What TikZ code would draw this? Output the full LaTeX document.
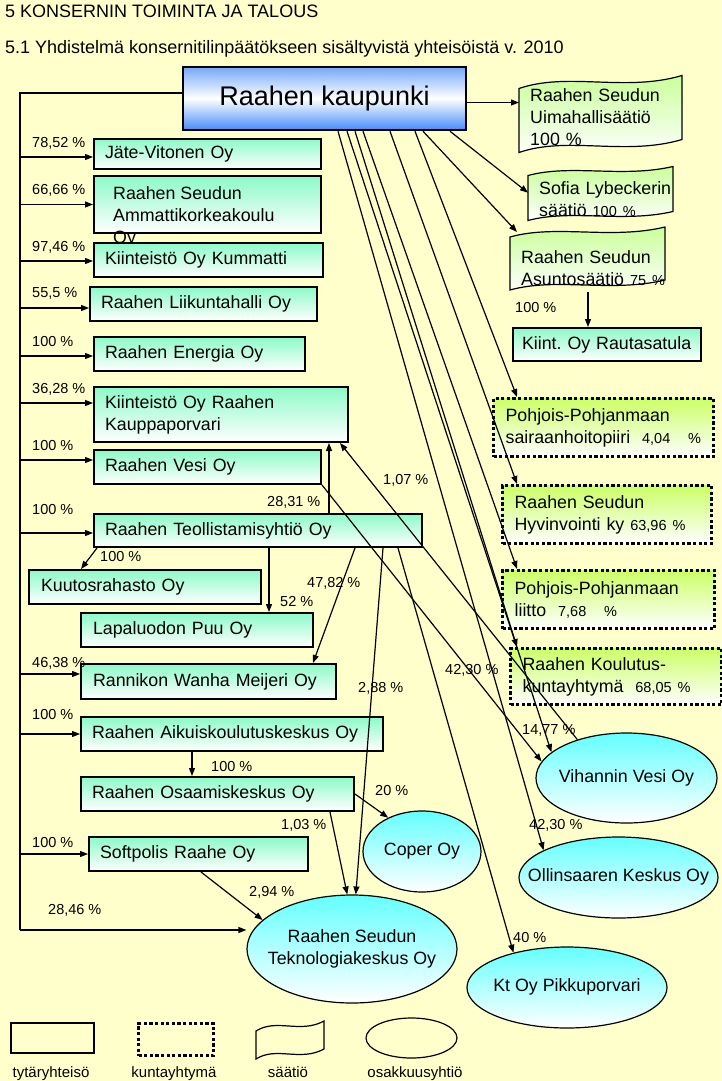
\documentclass[tikz,border=0pt]{standalone}
\usepackage{fontspec}
\setmainfont{Liberation Sans}
\usepackage{tikz}
\usetikzlibrary{positioning,arrows.meta,shapes.geometric}

\definecolor{paper}{RGB}{255,255,204}
\definecolor{mint}{RGB}{140,250,200}
\definecolor{lime}{RGB}{204,255,102}
\definecolor{leaf}{RGB}{200,255,150}
\definecolor{aqua}{RGB}{100,255,255}
\definecolor{sky}{RGB}{70,140,250}

\newcommand{\nrm}{\fontsize{17.8}{22}\selectfont}
\newcommand{\sm}{\fontsize{14.5}{17}\selectfont}
\newcommand{\inell}[1]{\makebox[0pt]{\begin{tabular}{@{}c@{}}#1\end{tabular}}}
% saatio outline: [style]{x1}{y1}{x2}{y2}{wave}
\newcommand{\saatio}[6][sa]{%
  \path[#1] (#2,{#3+#6})
    .. controls ({#2+0.3*(#4-#2)},{#3-1.6*#6}) and ({#2+0.65*(#4-#2)},{#3+1.6*#6}) .. (#4,{#3-#6})
    -- (#4,{#5-#6})
    .. controls ({#2+0.65*(#4-#2)},{#5+1.6*#6}) and ({#2+0.3*(#4-#2)},{#5-1.6*#6}) .. (#2,{#5+#6})
    -- cycle;}

\begin{document}
\begin{tikzpicture}[x=1pt,y=-1pt,font=\nrm,
  co/.style={draw,line width=2pt,top color=mint,bottom color=white,
    anchor=north west,align=left,inner xsep=11pt,inner ysep=0pt},
  ky/.style={co,line width=3.2pt,dash pattern=on 3.2pt off 2.4pt,top color=lime,inner xsep=12pt},
  sn/.style={anchor=north west,align=left,inner xsep=11pt,inner ysep=0pt,text width=170pt},
  sa/.style={draw,line width=1.2pt,top color=leaf,bottom color=white},
  sal/.style={draw,line width=1.2pt},
  os/.style={ellipse,draw,line width=1.2pt,top color=aqua,bottom color=white,inner sep=0pt},
  ln/.style={line width=1.2pt},
  ar/.style={ln,-{Triangle[length=8pt,width=6pt]}},
  lbl/.style={font=\sm,inner sep=0pt,anchor=west},
  lgt/.style={font=\fontsize{15}{18}\selectfont,inner sep=0pt,anchor=base}
]
\fill[paper] (0,0) rectangle (721,1081);
\useasboundingbox (0,0) rectangle (721,1081);

% ---------------- headings ----------------
\node[anchor=base west,inner sep=0pt,font=\fontsize{18}{21}\selectfont] (h1) at (5,18)
  {5 KONSERNIN TOIMINTA JA TALOUS};
\node[anchor=base west,inner sep=0pt,font=\fontsize{18}{21}\selectfont] (h2) at (5,53)
  {5.1 Yhdistelmä konsernitilinpäätökseen sisältyvistä yhteisöistä v. 2010};

% ---------------- city ----------------
\node[draw,line width=2.5pt,top color=sky!75,bottom color=sky,middle color=white,
  minimum width=283pt,minimum height=63pt,font=\fontsize{27}{30}\selectfont] (city) at (324.5,98.5)
  {Raahen kaupunki};

% ---------------- subsidiaries, left column ----------------
\node[co,text width=205pt,minimum height=30pt] (jate) at (93,138) {Jäte-Vitonen Oy};
\node[co,text width=205pt,minimum height=57pt] (amk) at (93,175) {};
\node[anchor=north west,align=left,inner sep=0pt] (amkt) at (113,186)
  {Raahen Seudun\\Ammattikorkeakoulu\\Oy};
\node[co,text width=207pt,minimum height=34pt] (kumm) at (93,242) {Kiinteistö Oy Kummatti};
\node[co,text width=205pt,minimum height=34pt] (liik) at (89,286) {Raahen Liikuntahalli Oy};
\node[co,text width=189pt,minimum height=34pt] (ener) at (93,336) {Raahen Energia Oy};
\node[co,text width=232pt,minimum height=55pt] (kpv) at (93,386) {Kiinteistö Oy Raahen\\Kauppaporvari};
\node[co,text width=205pt,minimum height=34pt] (vesi) at (93,449) {Raahen Vesi Oy};
\node[co,text width=306pt,minimum height=33pt] (teol) at (93,513) {Raahen Teollistamisyhtiö Oy};
\node[co,inner xsep=12pt,text width=208pt,minimum height=34pt] (kuut) at (28,569) {Kuutosrahasto Oy};
\node[co,inner xsep=12pt,text width=208pt,minimum height=34pt] (lapa) at (80,612) {Lapaluodon Puu Oy};
\node[co,inner xsep=12pt,text width=231pt,minimum height=35pt] (meij) at (80,663) {Rannikon Wanha Meijeri Oy};
\node[co,inner xsep=11pt,text width=280pt,minimum height=34pt] (aiku) at (80,716) {Raahen Aikuiskoulutuskeskus Oy};
\node[co,inner xsep=11pt,text width=251pt,minimum height=34pt] (osaa) at (80,776) {Raahen Osaamiskeskus Oy};
\node[co,text width=197pt,minimum height=34pt] (soft) at (88,836) {Softpolis Raahe Oy};

% ---------------- foundations ----------------
\saatio{519}{82}{682}{146}{6.5}
\saatio{528}{171}{673}{216}{4.5}
\saatio{510}{232}{665}{285}{5}
\node[sn,minimum height=65pt] (uima) at (519,84) {Raahen Seudun\\Uimahallisäätiö\\100 \%};
\node[sn,minimum height=55pt] (sofia) at (528,171) {Sofia Lybeckerin\\säätiö {\sm 100 \%}};
\node[sn,minimum height=71pt] (asunto) at (510,232) {Raahen Seudun\\Asuntosäätiö {\sm 75 \%}};
\node[co,inner xsep=9pt,text width=170pt,minimum height=33pt] (rauta) at (512,327)
  {\mbox{Kiint.\ Oy Rautasatula}};

% ---------------- joint municipal authorities ----------------
\node[ky,text width=196pt,minimum height=58pt] (pshp) at (492,397)
  {Pohjois-Pohjanmaan\\sairaanhoitopiiri\ \ {\sm 4,04\ \ \ \%}};
\node[ky,text width=185pt,minimum height=58pt] (hyvi) at (501,484)
  {Raahen Seudun\\Hyvinvointi ky {\sm 63,96 \%}};
\node[ky,text width=188pt,minimum height=58pt] (liitto) at (501,569)
  {Pohjois-Pohjanmaan\\liitto\ \ {\sm 7,68\ \ \ \%}};
\node[ky,text width=187pt,minimum height=56pt] (koulu) at (509,647)
  {Raahen Koulutus-\\kuntayhtymä\ \ {\sm 68,05 \%}};

% ---------------- associated companies ----------------
\node[os,minimum width=181pt,minimum height=90pt] (vihan) at (626.5,778) {\inell{Vihannin Vesi Oy}};
\node[os,minimum width=199pt,minimum height=81pt] (ollin) at (618.5,877.5) {\inell{Ollinsaaren Keskus Oy}};
\node[os,minimum width=118pt,minimum height=81pt] (coper) at (422,851.5) {\inell{Coper Oy}};
\node[os,minimum width=210pt,minimum height=108pt] (tekno) at (352,949)
  {\inell{Raahen Seudun\\Teknologiakeskus Oy}};
\node[os,minimum width=200pt,minimum height=81pt] (pikku) at (567,987.5) {\inell{Kt Oy Pikkuporvari}};

% ---------------- trunk on the left ----------------
\coordinate (t0) at (20,93);
\coordinate (t1) at (20,930);
\draw[ln] ([yshift=5.5pt]city.west) -- (t0) -- (t1);
\foreach \n/\s/\p/\ly in {jate/-3/{78,52}/143, amk/0/{66,66}/190, kumm/-1/{97,46}/247,
    liik/-4/{55,5}/293, ener/-2/100/342, kpv/11.5/{36,28}/389, vesi/7/100/446,
    teol/-2.5/100/510, meij/7.5/{46,38}/663, aiku/0/100/714, soft/0/100/842}
  {\coordinate (e) at ([yshift=\s pt]\n.west);
   \draw[ar] (t0 |- e) -- (e);
   \node[lbl] (p\n) at (32,\ly) {\p\ \%};}
\draw[ar] (t1) -- (t1 -| tekno.west);
\node[lbl] (ptekno) at (48,910) {28,46 \%};

% ---------------- from the city ----------------
\coordinate (ce) at ([yshift=-4pt]city.east);
\draw[ar] (ce) -- (ce -| uima.west);
\draw[ar] ([xshift=125.5pt]city.south) -- ([yshift=6pt]sofia.west);
\draw[ar] ([xshift=98.5pt]city.south) -- ([xshift=7pt]asunto.north west);
\draw[ar] ([xshift=90.5pt]city.south) -- ([xshift=25pt]pshp.north west);
\draw[ar] ([xshift=65.5pt]city.south) -- ([xshift=16pt]hyvi.north west);
\draw[ar] ([xshift=38.5pt]city.south) -- ([xshift=16pt]liitto.north west);
\draw[ar] ([xshift=30.5pt]city.south) -- ([xshift=8pt]koulu.north west);
\draw[ar] ([xshift=22.5pt]city.south) -- (vihan.161);
\draw[ar] ([xshift=13.5pt]city.south) -- (ollin.160);
\coordinate (rt) at ([xshift=76pt]rauta.north west);
\draw[ar] ([yshift=35pt]rt) -- (rt);
\node[lbl] (prauta) at (515,308) {100 \%};

% ---------------- Teollistamisyhtiö and the rest ----------------
\draw[ar] ([xshift=4pt]teol.south west) -- ([xshift=53pt]kuut.north west);
\coordinate (tl) at ([xshift=176pt]teol.south west);
\draw[ar] (tl) -- (tl |- lapa.north);
\draw[ar] ([xshift=262pt]teol.south west) -- ([xshift=233pt]meij.north west);
\coordinate (tu) at ([xshift=236pt]teol.north west);
\draw[ar] (tu) -- (tu |- kpv.south);
\draw[ar] ([xshift=290pt]teol.south west) -- (tekno.86);
\draw[ar] ([xshift=305pt]teol.south west) -- (pikku.147);
\draw[ar] (vesi.south east) -- (vihan.169);
\draw[ar] (vihan.142) -- ([xshift=-9pt]kpv.south east);
\coordinate (ao) at ([xshift=112pt]aiku.south west);
\draw[ar] (ao) -- (ao |- osaa.north);
\draw[ar] (osaa.east) -- (coper.135);
\draw[ar] ([xshift=250pt]osaa.south west) -- (tekno.95);
\draw[ar] ([xshift=113pt]soft.south west) -- (tekno.162);

\node[lbl] (pkpv2) at (383,480) {1,07 \%};
\node[lbl] (pkpv1) at (267,502) {28,31 \%};
\node[lbl] (pkuut) at (100,557) {100 \%};
\node[lbl] (plapa) at (280,602) {52 \%};
\node[lbl] (pmeij) at (307,583) {47,82 \%};
\node[lbl] (pvihan1) at (445,670) {42,30 \%};
\node[lbl] (ptekno1) at (358,688) {2,88 \%};
\node[lbl] (pvihan2) at (522,730) {14,77 \%};
\node[lbl] (pollin) at (529,825) {42,30 \%};
\node[lbl] (ppikku) at (513,937) {40 \%};
\node[lbl] (posaa) at (211,766) {100 \%};
\node[lbl] (pcoper) at (375,790) {20 \%};
\node[lbl] (ptekno2) at (281,825) {1,03 \%};
\node[lbl] (ptekno3) at (249,892) {2,94 \%};

% ---------------- legend ----------------
\node[draw,line width=2pt,minimum width=83pt,minimum height=30pt,anchor=north west] (lg1) at (10,1022) {};
\node[draw,line width=3.2pt,dash pattern=on 3.2pt off 2.4pt,minimum width=75pt,minimum height=32pt,
  anchor=north west] (lg2) at (137,1022) {};
\saatio[sal]{256}{1026}{324}{1054}{5}
\node[ellipse,draw,line width=1.2pt,minimum width=91pt,minimum height=40pt,inner sep=0pt] (lg4) at (411.5,1038) {};
\node[lgt] (lt1) at (51,1077) {tytäryhteisö};
\node[lgt] (lt2) at (174,1077) {kuntayhtymä};
\node[lgt] (lt3) at (288,1077) {säätiö};
\node[lgt] (lt4) at (415,1077) {osakkuusyhtiö};
\end{tikzpicture}
\end{document}
